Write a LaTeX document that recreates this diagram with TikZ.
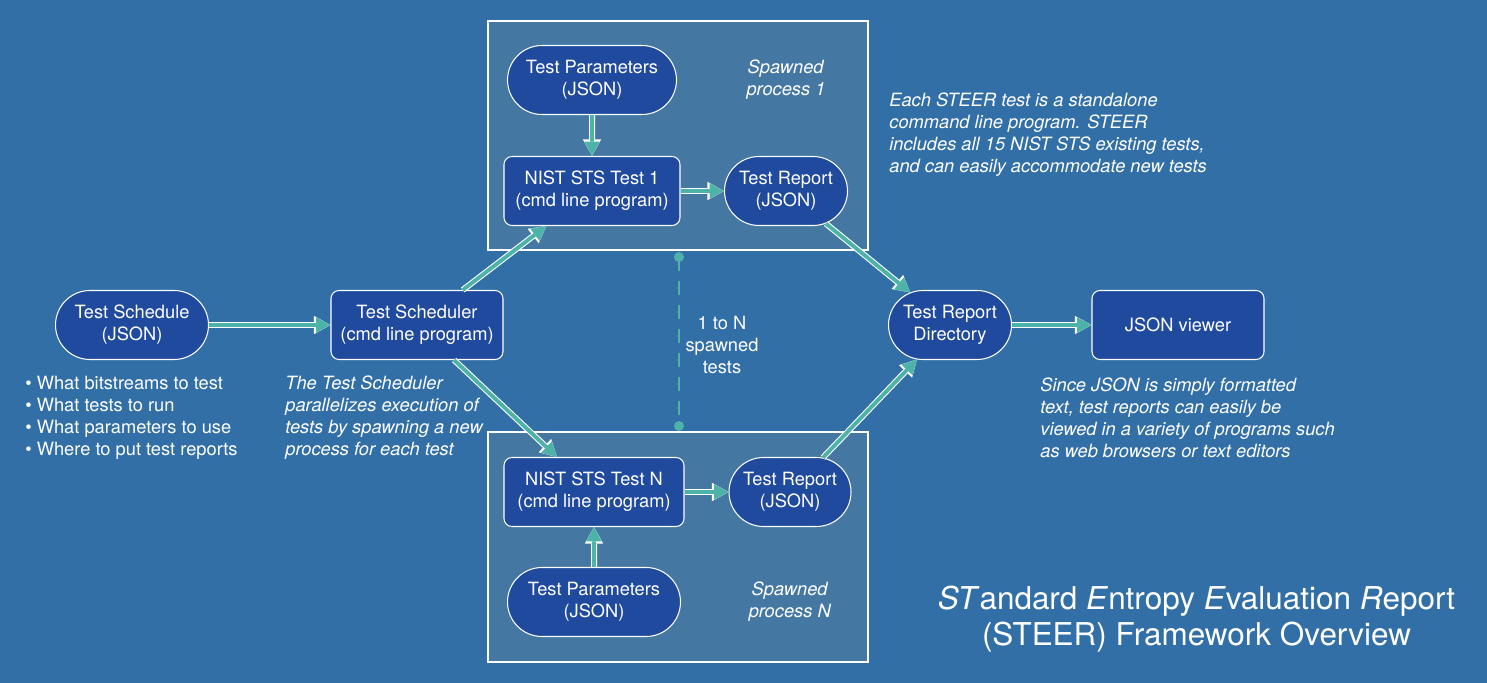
\documentclass[tikz,border=0pt]{standalone}
\usepackage{xcolor}
\usepackage{fontspec}
\setmainfont{TeX Gyre Heros}
\usepackage{tikz}
\usetikzlibrary{shapes.misc, arrows.meta, positioning}
\definecolor{bgblue}{HTML}{316FA6}
\definecolor{framefill}{HTML}{4478A3}
\definecolor{boxblue}{HTML}{1F4A9E}
\definecolor{arrowteal}{HTML}{4DB3A9}
\newcommand{\steerfont}{\fontsize{10.4}{12.5}\selectfont}
\newcommand{\steertitlefont}{\fontsize{17.9}{20.6}\selectfont}
\tikzstyle{json} = [rounded rectangle, minimum height=1.38cm, align=center, draw=white, line width=0.6pt, fill=boxblue, inner sep=2pt]
\tikzstyle{prog} = [rectangle, rounded corners=0.16cm, minimum height=1.38cm, align=center, draw=white, line width=0.6pt, fill=boxblue, inner sep=2pt]
\tikzstyle{frame} = [draw=white, line width=0.8pt, fill=framefill]
\tikzstyle{note} = [align=left, inner sep=0pt]
\tikzstyle{arrow} = [draw=arrowteal, line width=2.2pt, -{Triangle[length=8.2pt,width=8.8pt,line width=0pt]}, preaction={draw=white, line width=3.4pt, -{Triangle[length=9.4pt,width=10.4pt,line width=0pt]}}]
\begin{document}
\begin{tikzpicture}[node distance=2cm, every node/.style={text=white, font=\steerfont}]
        \fill[bgblue] (0,0) rectangle (29.74,-13.66);
        \useasboundingbox (0,0) rectangle (29.74,-13.66);

        % Spawned process frames
        \draw[frame] (9.76,-0.42) rectangle (17.36,-5.0);
        \draw[frame] (9.76,-8.64) rectangle (17.36,-13.24);

        % Input Layer
        \node (sched) [json, minimum width=3.2cm] at (2.64,-6.5) {Test Schedule\\(JSON)};
        \node (sch) [prog, minimum width=3.44cm, right of=sched, node distance=5.7cm] {Test Scheduler\\(cmd line program)};

        % Spawned process 1
        \node (nist1) [prog, minimum width=3.52cm, right of=sch, node distance=3.5cm, yshift=2.68cm] {NIST STS Test 1\\(cmd line program)};
        \node (parm1) [json, minimum width=3.52cm, above of=nist1, node distance=2.22cm] {Test Parameters\\(JSON)};
        \node (rep1) [json, minimum width=2.6cm, right of=nist1, node distance=3.88cm] {Test Report\\(JSON)};
        \node (spawn1) [note, align=center, above of=rep1, node distance=2.22cm] {\textit{Spawned}\\\textit{process 1}};

        % Spawned process N
        \node (nistn) [prog, minimum width=3.6cm, right of=sch, node distance=3.54cm, yshift=-3.34cm] {NIST STS Test N\\(cmd line program)};
        \node (repn) [json, minimum width=2.58cm, right of=nistn, node distance=3.92cm] {Test Report\\(JSON)};
        \node (parmn) [json, minimum width=3.6cm, below of=nistn, node distance=2.2cm] {Test Parameters\\(JSON)};
        \node (spawnn) [note, align=center, below of=repn, node distance=2.2cm] {\textit{Spawned}\\\textit{process N}};

        % Output Layer
        \node (dir) [json, minimum width=2.6cm, right of=sch, node distance=10.66cm] {Test Report\\Directory};
        \node (view) [prog, minimum width=3.44cm, right of=dir, node distance=4.56cm] {JSON viewer};

        % Notes
        \node (bullets) [note, anchor=west] at (0.5,-8.36) {\textbullet\ What bitstreams to test\\\textbullet\ What tests to run\\\textbullet\ What parameters to use\\\textbullet\ Where to put test reports};
        \node (schnote) [note, anchor=west, font=\steerfont\itshape] at (5.7,-8.36) {The Test Scheduler\\parallelizes execution of\\tests by spawning a new\\process for each test};
        \node (steernote) [note, anchor=west, font=\steerfont\itshape] at (17.78,-2.7) {Each STEER test is a standalone\\command line program. STEER\\includes all 15 NIST STS existing tests,\\and can easily accommodate new tests};
        \node (jsonnote) [note, anchor=west, font=\steerfont\itshape] at (20.8,-8.36) {Since JSON is simply formatted\\text, test reports can easily be\\viewed in a variety of programs such\\as web browsers or text editors};
        \node (count) [note, align=center] at (14.44,-6.9) {1 to N\\spawned\\tests};
        \node (title) [note, align=center, font=\steertitlefont] at (23.93,-12.38) {\textit{ST}andard \textit{E}ntropy \textit{E}valuation \textit{R}eport\\(STEER) Framework Overview};

        % 1 to N marker
        \coordinate (dtop) at (13.58,-5.14);
        \coordinate (dbot) at (13.58,-8.52);
        \draw [arrowteal, line width=1.1pt, dash pattern=on 0.28cm off 0.2cm] (dtop) -- (dbot);
        \fill [arrowteal] (dtop) circle (0.1cm);
        \fill [arrowteal] (dbot) circle (0.1cm);

        % Connections
        \draw [arrow] (sched) -- (sch);
        \draw [arrow] (sch) -- (nist1);
        \draw [arrow] (sch) -- (nistn);
        \draw [arrow] (parm1) -- (nist1);
        \draw [arrow] (nist1) -- (rep1);
        \draw [arrow] (parmn) -- (nistn);
        \draw [arrow] (nistn) -- (repn);
        \draw [arrow] (rep1) -- (dir);
        \draw [arrow] (repn) -- (dir);
        \draw [arrow] (dir) -- (view);
    \end{tikzpicture}
\end{document}
